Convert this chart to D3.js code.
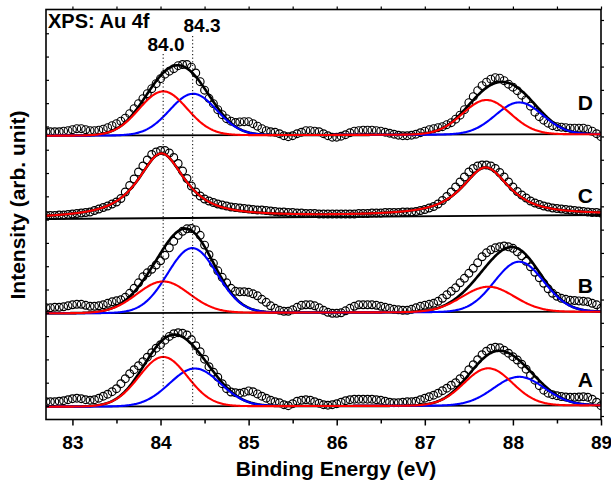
<!DOCTYPE html>
<html>
<head>
<meta charset="utf-8">
<script src="https://cdn.jsdelivr.net/npm/d3@7/dist/d3.min.js"></script>
<style>
	body { margin: 0; background: #fff; }
	text { font-family: "Liberation Sans", Arial, sans-serif; font-weight: bold; fill: #000; }
</style>
</head>
<body>
<script>

// measured points: 82.70 ... 89.00 eV, 0.05 eV step (arb. units above each panel's baseline)
var eStart = 82.7, eStep = 0.05;

var spectrumD = [4, 4, 4, 4, 4.5, 5, 6, 7, 7, 6,
	5, 5, 5.5, 6.5, 8, 10, 12, 14.5, 17.5, 22,
	27, 32, 37, 42, 47, 52, 57, 61.5, 64.5, 67,
	70, 71.2, 71.2, 68.5, 62.7, 54, 45.5, 37.4, 32, 26,
	21, 17, 14.5, 13.2, 13.8, 14, 14, 12, 9.5, 7,
	5, 4, 3.5, 2, 0, -1, 0, 2, 3.5, 5,
	5, 4.5, 4, 2, 0, -1.5, -1.5, -0.5, 1, 3,
	4.5, 5, 5.5, 5.5, 5.5, 5, 4.5, 3.5, 2.5, 1.5,
	0.5, 0, 0, 0.5, 1.5, 3, 4.5, 6, 7, 8,
	9, 11, 13, 16.5, 20.5, 26, 33, 39, 45, 50,
	53.5, 56.5, 58, 57.5, 55, 51.5, 48.5, 45, 40.5, 36,
	29.5, 23.5, 19, 15.5, 12.5, 10, 9, 8.5, 8, 7.5,
	7.5, 7.5, 7.5, 6.5, 4.5, 2, -1];

var spectrumC = [3.5, 3.5, 3.5, 4, 4, 4.5, 5, 5.5, 6, 6.5,
	7, 8.5, 10, 11.5, 13, 15, 17, 20.5, 27, 33.5,
	40, 47, 53, 59, 64.5, 67, 68.5, 68.5, 66, 61.5,
	55.5, 48, 40.5, 33, 27, 23, 20, 18, 16.5, 15,
	14, 13, 12, 11.5, 11, 10.5, 10, 9.5, 9, 9,
	8.5, 8, 7.5, 7, 7, 6.5, 6.5, 6, 6, 5.5,
	5.5, 5.5, 5, 5, 5, 5, 5, 5, 5, 5,
	5, 5.5, 5.5, 5.5, 6, 6, 6, 6.5, 6.5, 6.5,
	6.5, 7, 7, 7, 7.5, 8.5, 9.5, 11, 12.5, 15,
	18.5, 22.5, 27, 32, 37, 42, 47, 50.5, 53, 54,
	54, 53, 50.5, 46.5, 42, 37, 32, 27.5, 24, 21,
	18, 16, 14.5, 13, 12, 11, 10.5, 10, 9.5, 9,
	8.5, 8, 7.5, 7, 6.5, 6.5, 6];

var spectrumB = [5.5, 5.5, 6, 6, 6.5, 7.5, 8.5, 9, 9, 8,
	7, 7, 7.5, 8.5, 10, 11.5, 12.5, 13.5, 16, 20,
	25, 30.5, 36.5, 40.5, 44, 48.3, 52.5, 58, 65.5, 72,
	78, 82, 84.5, 84.8, 83.4, 78, 68.2, 58.6, 50, 42.5,
	36, 30.5, 25, 22, 21.5, 21.6, 21, 19.5, 17.5, 14,
	11, 7.5, 5, 3, 2, 2, 3.5, 6, 8, 8.5,
	8.5, 7.5, 5.5, 3, 1, 0, 0, 0.5, 2.5, 5,
	7, 8.5, 8.5, 8.5, 8.5, 8, 7, 6, 5, 4,
	3.5, 3, 3, 4, 5.5, 7, 8, 9, 10, 12,
	15, 18.5, 22, 25.5, 30.5, 35, 40, 45, 50.5, 56.5,
	60.5, 63.5, 65.5, 66.5, 67.3, 66.5, 65, 61.5, 57.5, 52,
	46.5, 41, 35.5, 30, 24.5, 20, 17, 15, 14, 13,
	12.8, 12.4, 12, 11.6, 10, 8.5, 5];

var spectrumA = [5, 5, 5, 5.5, 6, 7, 8, 8.5, 8, 7,
	6.5, 7, 8.5, 10.5, 12.5, 15, 18, 23, 28, 33,
	37, 41, 45, 49.5, 54, 58.5, 62, 66.5, 70.3, 73,
	74, 73.5, 71.7, 67, 61, 55, 47.5, 40, 34.5, 29.5,
	23, 18, 14.7, 14, 13.5, 14.5, 15.8, 15, 12.8, 10.5,
	8.5, 6.5, 5, 4, 2, 1, 3, 5.5, 6.5, 7,
	6.5, 5, 3.5, 2, 1.5, 2, 3, 4.5, 6, 7,
	7.5, 7.5, 7.5, 7.5, 7.5, 7, 6.5, 5.5, 4.5, 4,
	4, 4.5, 5, 5, 5.5, 7, 8.5, 10, 11.5, 13.5,
	16, 18.5, 21.5, 24, 28, 31.5, 37, 42, 47, 52,
	55.5, 58.4, 59.5, 59, 56.5, 53.5, 50, 46.7, 42.5, 37.5,
	31.5, 26.5, 21, 16.5, 13.5, 12, 11, 10.2, 9.7, 9.5,
	9.5, 9.7, 10, 9.5, 7.5, 4.5, 1];

var panelNames = ["D", "C", "B", "A"];
var spectra = [spectrumD, spectrumC, spectrumB, spectrumA];

// fitted peak table: 4f7/2 and 4f5/2 positions (eV), heights, FWHM (eV)
var redCenters = [[84.03, 87.70], [84.01, 87.69], [84.03, 87.72], [84.03, 87.72]];
var redHeights = [[44, 34.5], [64.5, 48], [31.5, 25.3], [49.5, 37.3]];
var redFwhm = [0.64, 0.64, 0.70, 0.645];
var blueCenters = [[84.37, 88.07], [], [84.36, 88.07], [84.39, 88.07]];
var blueHeights = [[41.5, 32], [], [64.8, 50.2], [37.8, 28.7]];
var blueFwhm = [0.63, 0, 0.66, 0.68];
var lorentzMix = [0, 0.85, 0, 0];
// linear background at 82.7 and 89.0 eV
var backgrounds = [[0, 1.5], [0, 4], [0, 1.6], [0, 1.4]];

var xTicks = [83, 84, 85, 86, 87, 88, 89];
var refLines = [84.03, 84.365];
var refLabels = ["84.0", "84.3"];

// layout
var panelBase = [135.7, 219, 313.3, 406.7];
var letterY = [110, 203, 293, 387];

var svg = d3.select("body").append("svg")
	.attr("width", 611)
	.attr("height", 483);

var plotLeft = 46, plotRight = 601, plotTop = 9.5, plotBottom = 419.5;

var x = d3.scaleLinear()
	.domain([82.7, 89])
	.range([plotLeft, plotRight]);

svg.append("clipPath")
	.attr("id", "plotclip")
	.append("rect")
	.attr("x", plotLeft)
	.attr("y", plotTop)
	.attr("width", plotRight - plotLeft)
	.attr("height", plotBottom - plotTop);

function pv(e, c, h, w, eta) {
	var t = (e - c) / w;
	var g = Math.exp(-4 * Math.LN2 * t * t);
	var l = 1 / (1 + 4 * t * t);
	return h * (eta * l + (1 - eta) * g);
}

var fine = d3.range(82.7, 89.0001, 0.01);

var plot = svg.append("g").attr("clip-path", "url(#plotclip)");

panelNames.forEach(function(name, i) {
	var y = d3.scaleLinear()
		.domain([0, 100])
		.range([panelBase[i], panelBase[i] - 100]);

	var bg = d3.scaleLinear().domain([82.7, 89]).range(backgrounds[i]);

	var g = plot.append("g").attr("class", "panel");

	// measured points
	g.selectAll("circle")
		.data(spectra[i])
		.enter().append("circle")
		.attr("cx", function(d, j) { return x(eStart + j * eStep); })
		.attr("cy", function(d) { return y(d); })
		.attr("r", 3.9)
		.style("fill", "none")
		.style("stroke", "#000")
		.style("stroke-width", 1.15);

	var line = d3.line()
		.x(function(d) { return x(d[0]); })
		.y(function(d) { return y(d[1]); });

	function comp(centers, heights, w) {
		return fine.map(function(e) {
			var v = bg(e);
			centers.forEach(function(c, k) {
				v += pv(e, c, heights[k], w, lorentzMix[i]);
			});
			return [e, v];
		});
	}

	var red = comp(redCenters[i], redHeights[i], redFwhm[i]);
	var blue = comp(blueCenters[i], blueHeights[i], blueFwhm[i]);
	var sum = red.map(function(d, k) {
		return [d[0], d[1] + blue[k][1] - bg(d[0])];
	});

	g.append("path")
		.attr("d", line([[82.7, backgrounds[i][0]], [89, backgrounds[i][1]]]))
		.style("fill", "none")
		.style("stroke", "#000")
		.style("stroke-width", 1.8);

	g.append("path")
		.attr("d", line(sum))
		.style("fill", "none")
		.style("stroke", "#000")
		.style("stroke-width", 2.6);

	if (blueCenters[i].length) {
		g.append("path")
			.attr("d", line(blue))
			.style("fill", "none")
			.style("stroke", "#0000ff")
			.style("stroke-width", 2.1);
	}

	g.append("path")
		.attr("d", line(red))
		.style("fill", "none")
		.style("stroke", "#ff0000")
		.style("stroke-width", 2.1);

	svg.append("text")
		.attr("x", 593)
		.attr("y", letterY[i])
		.style("text-anchor", "end")
		.style("font-size", "21px")
		.text(name);
});

// dotted reference lines
var dotTop = [54, 36], dotBottom = [387, 404];
refLines.forEach(function(e, k) {
	svg.append("line")
		.attr("x1", x(e)).attr("x2", x(e))
		.attr("y1", dotTop[k]).attr("y2", dotBottom[k])
		.style("stroke", "#000")
		.style("stroke-width", 1)
		.style("stroke-dasharray", "1.2,2.4");
});
svg.append("text").attr("x", 166).attr("y", 51)
	.style("text-anchor", "middle").style("font-size", "19px").text(refLabels[0]);
svg.append("text").attr("x", 202).attr("y", 32)
	.style("text-anchor", "middle").style("font-size", "19px").text(refLabels[1]);

// frame
svg.append("rect")
	.attr("x", plotLeft).attr("y", plotTop)
	.attr("width", plotRight - plotLeft).attr("height", plotBottom - plotTop)
	.style("fill", "none")
	.style("stroke", "#000")
	.style("stroke-width", 1.6);

// bottom axis
var xAxis = svg.append("g")
	.attr("transform", "translate(0," + plotBottom + ")")
	.call(d3.axisBottom(x).tickValues(xTicks).tickSize(6).tickPadding(10)
		.tickFormat(d3.format("d")));
xAxis.select(".domain").remove();
xAxis.selectAll("line").style("stroke-width", 1.5);
xAxis.selectAll("text")
	.style("font-size", "19px")
	.style("font-family", "'Liberation Sans', Arial, sans-serif")
	.style("font-weight", "bold");

var xMinor = svg.append("g")
	.attr("transform", "translate(0," + plotBottom + ")")
	.call(d3.axisBottom(x).tickValues(d3.range(83.5, 89, 1)).tickSize(4).tickFormat(""));
xMinor.select(".domain").remove();
xMinor.selectAll("line").style("stroke-width", 1.5);

// top axis
var xTop = svg.append("g")
	.attr("transform", "translate(0," + plotTop + ")")
	.call(d3.axisTop(x).tickValues(d3.range(83, 89.01, 0.5)).tickSize(3).tickFormat(""));
xTop.select(".domain").remove();
xTop.selectAll("line").style("stroke-width", 1.2);

// side ticks
var yLeft = d3.scaleLinear().domain([-0.58, 17.02]).range([plotBottom, plotTop]);
var leftAx = svg.append("g")
	.attr("transform", "translate(" + plotLeft + ",0)")
	.call(d3.axisLeft(yLeft).tickValues(d3.range(0, 17)).tickSize(-3).tickFormat(""));
leftAx.select(".domain").remove();
leftAx.selectAll("line").style("stroke-width", 1.2);

var yRight = d3.scaleLinear().domain([-0.15, 17.45]).range([plotBottom, plotTop]);
var rightAx = svg.append("g")
	.attr("transform", "translate(" + plotRight + ",0)")
	.call(d3.axisRight(yRight).tickValues(d3.range(0, 18)).tickSize(3).tickFormat(""));
rightAx.select(".domain").remove();
rightAx.selectAll("line").style("stroke-width", 1.2);

// titles
svg.append("text")
	.attr("x", 48).attr("y", 28)
	.style("font-size", "20px")
	.text("XPS: Au 4f");

svg.append("text")
	.attr("x", 336).attr("y", 476)
	.style("text-anchor", "middle")
	.style("font-size", "21px")
	.text("Binding Energy (eV)");

svg.append("text")
	.attr("transform", "translate(25,205) rotate(-90)")
	.style("text-anchor", "middle")
	.style("font-size", "21px")
	.text("Intensity (arb. unit)");

</script>
</body>
</html>
